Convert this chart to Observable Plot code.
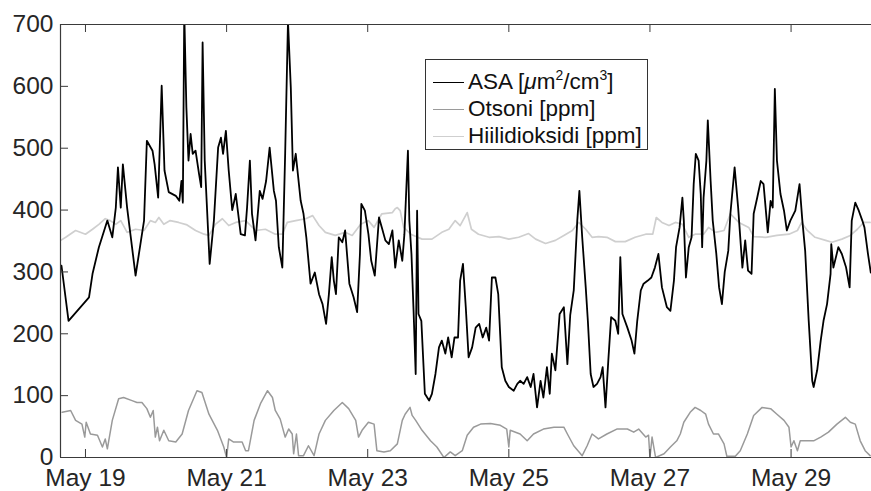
<!DOCTYPE html>
<html>
<head>
<meta charset="utf-8">
<script src="https://cdn.jsdelivr.net/npm/d3@7"></script>
<script src="https://cdn.jsdelivr.net/npm/@observablehq/plot@0.6"></script>
<style>
  html, body { margin: 0; padding: 0; background: #fff; }
  #wrap { position: relative; width: 871px; height: 491px; font-family: "Liberation Sans", Arial, sans-serif; }
  #legend { position: absolute; left: 425px; top: 59px; width: 223px; height: 91px; border: 1.2px solid #333; background: #fff; box-sizing: border-box; }
  .row { position: absolute; left: 0; height: 26px; display: flex; align-items: center; font-size: 22.5px; color: #111; white-space: nowrap; }
  .sw { display: inline-block; width: 31px; height: 0; border-top-style: solid; margin-left: 7px; margin-right: 4px; }
  sup { font-size: 62%; vertical-align: 0.62em; line-height: 0; }
</style>
</head>
<body>
<div id="wrap">
  <div id="chart"></div>
  <div id="legend"></div>
</div>
<script>
// ---- data (decimal day of May, value) ----
const asaDay = [18.66,18.76,19.05,19.10,19.19,19.31,19.38,19.43,19.46,19.50,19.53,19.59,19.71,19.83,19.87,19.95,19.98,20.03,20.08,20.12,20.18,20.28,20.33,20.36,20.38,20.40,20.43,20.46,20.49,20.52,20.56,20.61,20.64,20.66,20.69,20.76,20.82,20.88,20.92,20.95,20.99,21.03,21.08,21.13,21.20,21.26,21.29,21.33,21.36,21.41,21.47,21.51,21.56,21.61,21.67,21.70,21.74,21.79,21.83,21.87,21.91,21.94,21.98,22.00,22.05,22.09,22.13,22.19,22.25,22.31,22.36,22.41,22.45,22.49,22.52,22.55,22.59,22.64,22.68,22.74,22.80,22.85,22.89,22.91,22.96,23.01,23.05,23.10,23.16,23.20,23.25,23.30,23.35,23.39,23.44,23.49,23.52,23.57,23.59,23.62,23.65,23.68,23.70,23.72,23.76,23.81,23.87,23.91,23.96,24.01,24.05,24.10,24.14,24.19,24.23,24.28,24.31,24.35,24.39,24.43,24.48,24.53,24.58,24.63,24.68,24.72,24.76,24.81,24.85,24.90,24.95,25.00,25.07,25.12,25.16,25.21,25.26,25.31,25.35,25.40,25.45,25.49,25.54,25.58,25.61,25.66,25.72,25.78,25.83,25.87,25.92,25.97,26.00,26.04,26.09,26.12,26.16,26.20,26.25,26.30,26.33,26.37,26.41,26.45,26.51,26.55,26.58,26.61,26.68,26.74,26.78,26.82,26.87,26.91,26.97,27.02,27.07,27.12,27.17,27.24,27.29,27.34,27.37,27.42,27.46,27.48,27.51,27.55,27.59,27.62,27.65,27.69,27.72,27.74,27.76,27.80,27.82,27.86,27.89,27.94,27.98,28.02,28.06,28.11,28.14,28.20,28.25,28.31,28.35,28.39,28.44,28.47,28.52,28.57,28.61,28.67,28.71,28.74,28.77,28.80,28.85,28.90,28.94,28.99,29.06,29.12,29.16,29.20,29.25,29.30,29.32,29.37,29.42,29.46,29.51,29.56,29.57,29.60,29.67,29.72,29.78,29.83,29.86,29.91,29.96,30.01,30.04,30.09,30.13];
const asaVal = [310,221,259,297,340,383,356,404,469,404,474,404,294,383,512,496,474,420,601,464,429,423,415,447,412,720,566,480,523,491,496,458,437,671,480,313,383,501,517,491,528,464,400,426,361,359,404,480,394,351,431,418,447,501,431,415,340,307,491,705,598,464,491,469,415,394,356,281,299,264,248,216,264,324,286,264,356,348,367,281,259,235,329,410,399,361,318,294,388,372,351,345,367,307,351,318,361,496,383,329,237,135,399,232,221,103,92,103,135,178,189,168,194,162,194,194,286,313,243,162,178,210,216,194,210,189,291,291,264,146,124,114,108,119,124,119,130,114,135,81,124,97,146,103,168,141,232,243,151,230,270,383,431,356,275,221,135,114,119,130,146,81,157,227,221,200,324,232,210,189,168,221,270,281,286,291,307,329,275,243,237,286,340,372,420,383,291,340,356,442,491,480,426,340,420,480,545,447,383,330,275,248,300,334,394,469,404,307,351,302,297,394,420,447,442,364,415,404,596,480,426,399,367,383,399,442,383,334,221,124,114,141,189,221,248,297,345,307,340,329,307,275,383,412,399,383,372,329,299];

const ozDay = [18.67,18.79,18.86,18.95,18.99,19.01,19.07,19.17,19.24,19.28,19.31,19.38,19.47,19.54,19.66,19.73,19.80,19.87,19.92,19.96,19.99,20.02,20.05,20.11,20.18,20.28,20.37,20.46,20.58,20.65,20.75,20.87,20.96,21.00,21.03,21.10,21.22,21.27,21.31,21.39,21.48,21.58,21.65,21.69,21.76,21.83,21.88,21.93,21.95,21.99,22.02,22.09,22.16,22.24,22.31,22.40,22.52,22.64,22.73,22.83,22.87,22.92,23.01,23.09,23.13,23.23,23.32,23.42,23.49,23.53,23.60,23.63,23.68,23.77,23.89,23.98,24.08,24.17,24.24,24.34,24.41,24.50,24.60,24.74,24.88,24.97,25.00,25.02,25.16,25.26,25.35,25.49,25.64,25.78,25.83,25.92,26.04,26.11,26.18,26.27,26.39,26.53,26.68,26.77,26.84,26.94,26.98,27.00,27.03,27.08,27.20,27.29,27.38,27.43,27.48,27.57,27.64,27.72,27.79,27.83,27.90,27.97,28.05,28.09,28.21,28.28,28.38,28.47,28.59,28.71,28.80,28.90,28.97,29.00,29.04,29.09,29.13,29.23,29.32,29.42,29.53,29.65,29.77,29.84,29.91,29.98,30.05,30.12];
const ozVal = [73,76,60,54,33,57,38,36,17,30,14,60,95,97,92,89,89,79,65,76,33,49,27,44,27,25,38,76,108,105,70,44,17,0,30,25,25,11,11,60,87,108,97,76,62,33,46,38,6,38,3,3,19,3,38,60,76,89,79,60,33,44,57,54,11,9,11,22,60,70,81,68,60,44,27,17,0,9,3,11,36,49,54,55,52,46,17,44,38,27,38,46,49,49,38,19,3,19,38,30,38,46,46,41,46,33,36,0,33,0,6,17,27,38,57,73,81,76,70,54,38,38,22,2,2,11,38,68,81,79,70,60,49,17,27,11,27,27,27,33,41,54,65,57,54,27,11,3];

const co2Day = [18.65,18.72,18.86,19.00,19.10,19.19,19.28,19.35,19.43,19.50,19.59,19.71,19.83,19.92,19.99,20.04,20.11,20.20,20.32,20.44,20.56,20.68,20.75,20.84,20.94,21.03,21.13,21.27,21.41,21.55,21.69,21.79,21.86,21.98,22.12,22.22,22.31,22.40,22.54,22.68,22.78,22.90,23.01,23.09,23.20,23.35,23.39,23.42,23.46,23.51,23.61,23.77,23.91,24.05,24.15,24.24,24.31,24.41,24.47,24.57,24.72,24.86,25.00,25.14,25.28,25.38,25.52,25.66,25.78,25.90,25.99,26.09,26.18,26.27,26.39,26.51,26.65,26.79,26.94,27.04,27.09,27.17,27.27,27.36,27.46,27.55,27.64,27.76,27.83,27.93,28.05,28.14,28.26,28.40,28.47,28.64,28.80,28.97,29.09,29.15,29.23,29.34,29.49,29.58,29.72,29.84,29.94,30.03,30.12];
const co2Val = [351,356,367,361,369,377,386,383,377,383,364,369,367,383,380,388,377,383,380,376,367,361,359,377,386,375,380,383,367,369,361,361,380,383,386,391,375,364,359,364,359,377,383,372,394,396,402,404,399,372,361,353,353,364,369,383,375,396,369,361,356,357,353,356,362,353,346,351,359,367,380,369,356,357,356,349,349,356,361,361,388,380,375,380,377,356,361,361,372,364,367,394,380,372,357,356,359,361,367,380,367,356,351,348,353,359,369,380,380];

const xDomainDays = [18.646, 30.14];
const xTickDays = [19, 21, 23, 25, 27, 29];
const yTicks = [0, 100, 200, 300, 400, 500, 600, 700];
const seriesNames = ["ASA [μm²/cm³]", "Otsoni [ppm]", "Hiilidioksidi [ppm]"];
const seriesColors = ["#000000", "#9a9a9a", "#cfcfcf"];

// ---- build ----
const toDate = d => new Date(Date.UTC(2010, 4, 1) + (d - 1) * 864e5);
const mk = (days, vals) => days.map((d, i) => ({t: toDate(d), v: vals[i]}));
const asa = mk(asaDay, asaVal), oz = mk(ozDay, ozVal), co2 = mk(co2Day, co2Val);

const W = 871, H = 491, mL = 60, mR = 0, mT = 24, mB = 34;
const pw = W - mL - mR, ph = H - mT - mB;
const axisColor = "#3a3a3a";
const xTicks = xTickDays.map(toDate);

const chart = Plot.plot({
  width: W, height: H,
  marginLeft: mL, marginRight: mR, marginTop: mT, marginBottom: mB,
  style: {fontFamily: "'Liberation Sans', Arial, sans-serif", fontSize: "24.5px", color: "#262626", background: "#fff"},
  x: {type: "utc", domain: xDomainDays.map(toDate), label: null},
  y: {domain: [0, 700], label: null},
  marks: [
    Plot.line(co2, {x: "t", y: "v", stroke: seriesColors[2], strokeWidth: 1.7, clip: true}),
    Plot.line(oz, {x: "t", y: "v", stroke: seriesColors[1], strokeWidth: 1.5, clip: true}),
    Plot.line(asa, {x: "t", y: "v", stroke: seriesColors[0], strokeWidth: 1.8, clip: true}),
    Plot.ruleY([0, 700], {stroke: axisColor, strokeWidth: 1.2}),
    Plot.ruleX([xDomainDays[0]].map(toDate), {stroke: axisColor, strokeWidth: 1.2}),
    Plot.tickY(yTicks, {y: d => d, insetRight: pw - 8, stroke: axisColor}),
    Plot.tickX(xTicks, {x: d => d, insetTop: ph - 8, stroke: axisColor}),
    Plot.tickX(xTicks, {x: d => d, insetBottom: ph - 8, stroke: axisColor}),
    Plot.axisY({ticks: yTicks, tickSize: 0, tickPadding: 7, tickFormat: d => String(d), fill: "#262626", label: null}),
    Plot.axisX({ticks: xTicks, tickSize: 0, tickPadding: 11, tickFormat: d3.utcFormat("%b %d"), fill: "#262626", label: null})
  ]
});
document.getElementById("chart").appendChild(chart);

// ---- legend ----
const legend = document.getElementById("legend");
const labelsHtml = ["ASA [<i>μ</i>m<sup>2</sup>/cm<sup>3</sup>]", "Otsoni [ppm]", "Hiilidioksidi [ppm]"];
const rowTops = [9, 36, 63];
seriesNames.forEach((n, i) => {
  const r = document.createElement("div");
  r.className = "row";
  r.style.top = rowTops[i] + "px";
  r.title = n;
  r.innerHTML = `<span class="sw" style="border-top-color:${seriesColors[i]};border-top-width:1.5px"></span><span>${labelsHtml[i]}</span>`;
  legend.appendChild(r);
});
</script>
</body>
</html>
